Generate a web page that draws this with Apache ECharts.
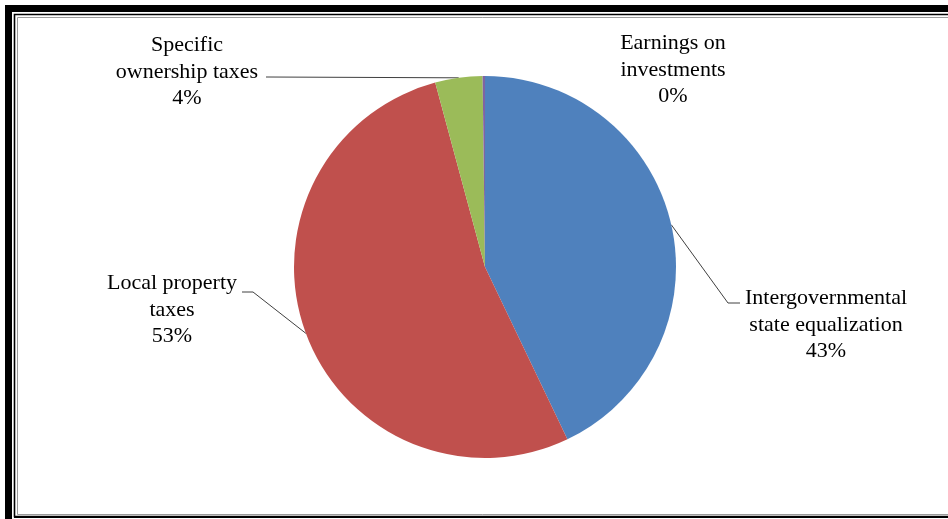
<!DOCTYPE html>
<html>
<head>
<meta charset="utf-8">
<script src="https://cdn.jsdelivr.net/npm/echarts@6/dist/echarts.min.js"></script>
<style>
html,body{margin:0;padding:0;background:#fff;}
#chart{width:948px;height:519px;}
</style>
</head>
<body>
<div id="chart"></div>
<script>
// ---- data ----
const categories = [
  'Intergovernmental\nstate equalization',
  'Local property\ntaxes',
  'Specific\nownership taxes',
  'Earnings on\ninvestments'
];
const values = [42.9, 52.9, 4.0, 0.2];
const percentLabels = ['43%', '53%', '4%', '0%'];
const colors = ['#4F81BD', '#C0504D', '#9BBB59', '#8064A2'];

// ---- label layout (positions of text boxes and leader bends) ----
const labelSpots = [
  { x: 826, y: 325, bend: [728, 303], end: [740, 303], line: true },
  { x: 172, y: 310, bend: [253, 292], end: [242, 292], line: true },
  { x: 187, y: 72,  bend: [268, 77],  end: [266, 77],  line: true },
  { x: 673, y: 70,  line: false }
];

const chart = echarts.init(document.getElementById('chart'));

const dataItems = categories.map((c, i) => ({
  name: c,
  value: values[i],
  itemStyle: { color: colors[i] },
  labelLine: { show: labelSpots[i].line }
}));

const W = 948, H = 519;
const option = {
  animation: false,
  backgroundColor: '#fff',
  graphic: [
    // thick outer black frame (left & top)
    { type: 'rect', shape: { x: 5, y: 5, width: 7, height: H - 5 }, style: { fill: '#000' }, silent: true },
    { type: 'rect', shape: { x: 5, y: 5, width: W - 5, height: 7 }, style: { fill: '#000' }, silent: true },
    // thin inner black line (left, top, bottom)
    { type: 'polyline', shape: { points: [[W, 14.5], [14.5, 14.5], [14.5, 516.5], [W, 516.5]] }, style: { fill: 'none', stroke: '#000', lineWidth: 1.6 }, silent: true },
    // inner gray line
    { type: 'polyline', shape: { points: [[W, 17.5], [17.5, 17.5], [17.5, 514.5], [W, 514.5]] }, style: { fill: 'none', stroke: '#9a9a9a', lineWidth: 1 }, silent: true },
    // bottom black
    { type: 'rect', shape: { x: 14, y: 516, width: W - 14, height: 2 }, style: { fill: '#000' }, silent: true }
  ],
  series: [{
    type: 'pie',
    center: [485, 267],
    radius: 191,
    startAngle: 90,
    clockwise: true,
    avoidLabelOverlap: false,
    data: dataItems,
    itemStyle: { borderWidth: 0 },
    label: {
      show: true,
      position: 'outside',
      formatter: p => categories[p.dataIndex] + '\n' + percentLabels[p.dataIndex],
      fontFamily: '"Liberation Serif", "DejaVu Serif", serif',
      fontSize: 22,
      lineHeight: 26.5,
      color: '#000',
      align: 'center'
    },
    labelLine: {
      show: true,
      length: 20,
      length2: 10,
      smooth: false,
      lineStyle: { color: '#404040', width: 1 }
    },
    labelLayout: function (p) {
      const s = labelSpots[p.dataIndex];
      const out = { x: s.x, y: s.y, align: 'center', verticalAlign: 'middle' };
      if (s.line && p.labelLinePoints && p.labelLinePoints.length) {
        out.labelLinePoints = [p.labelLinePoints[0], s.bend, s.end];
      }
      return out;
    },
    emphasis: { disabled: true }
  }]
};
chart.setOption(option);
</script>
</body>
</html>
